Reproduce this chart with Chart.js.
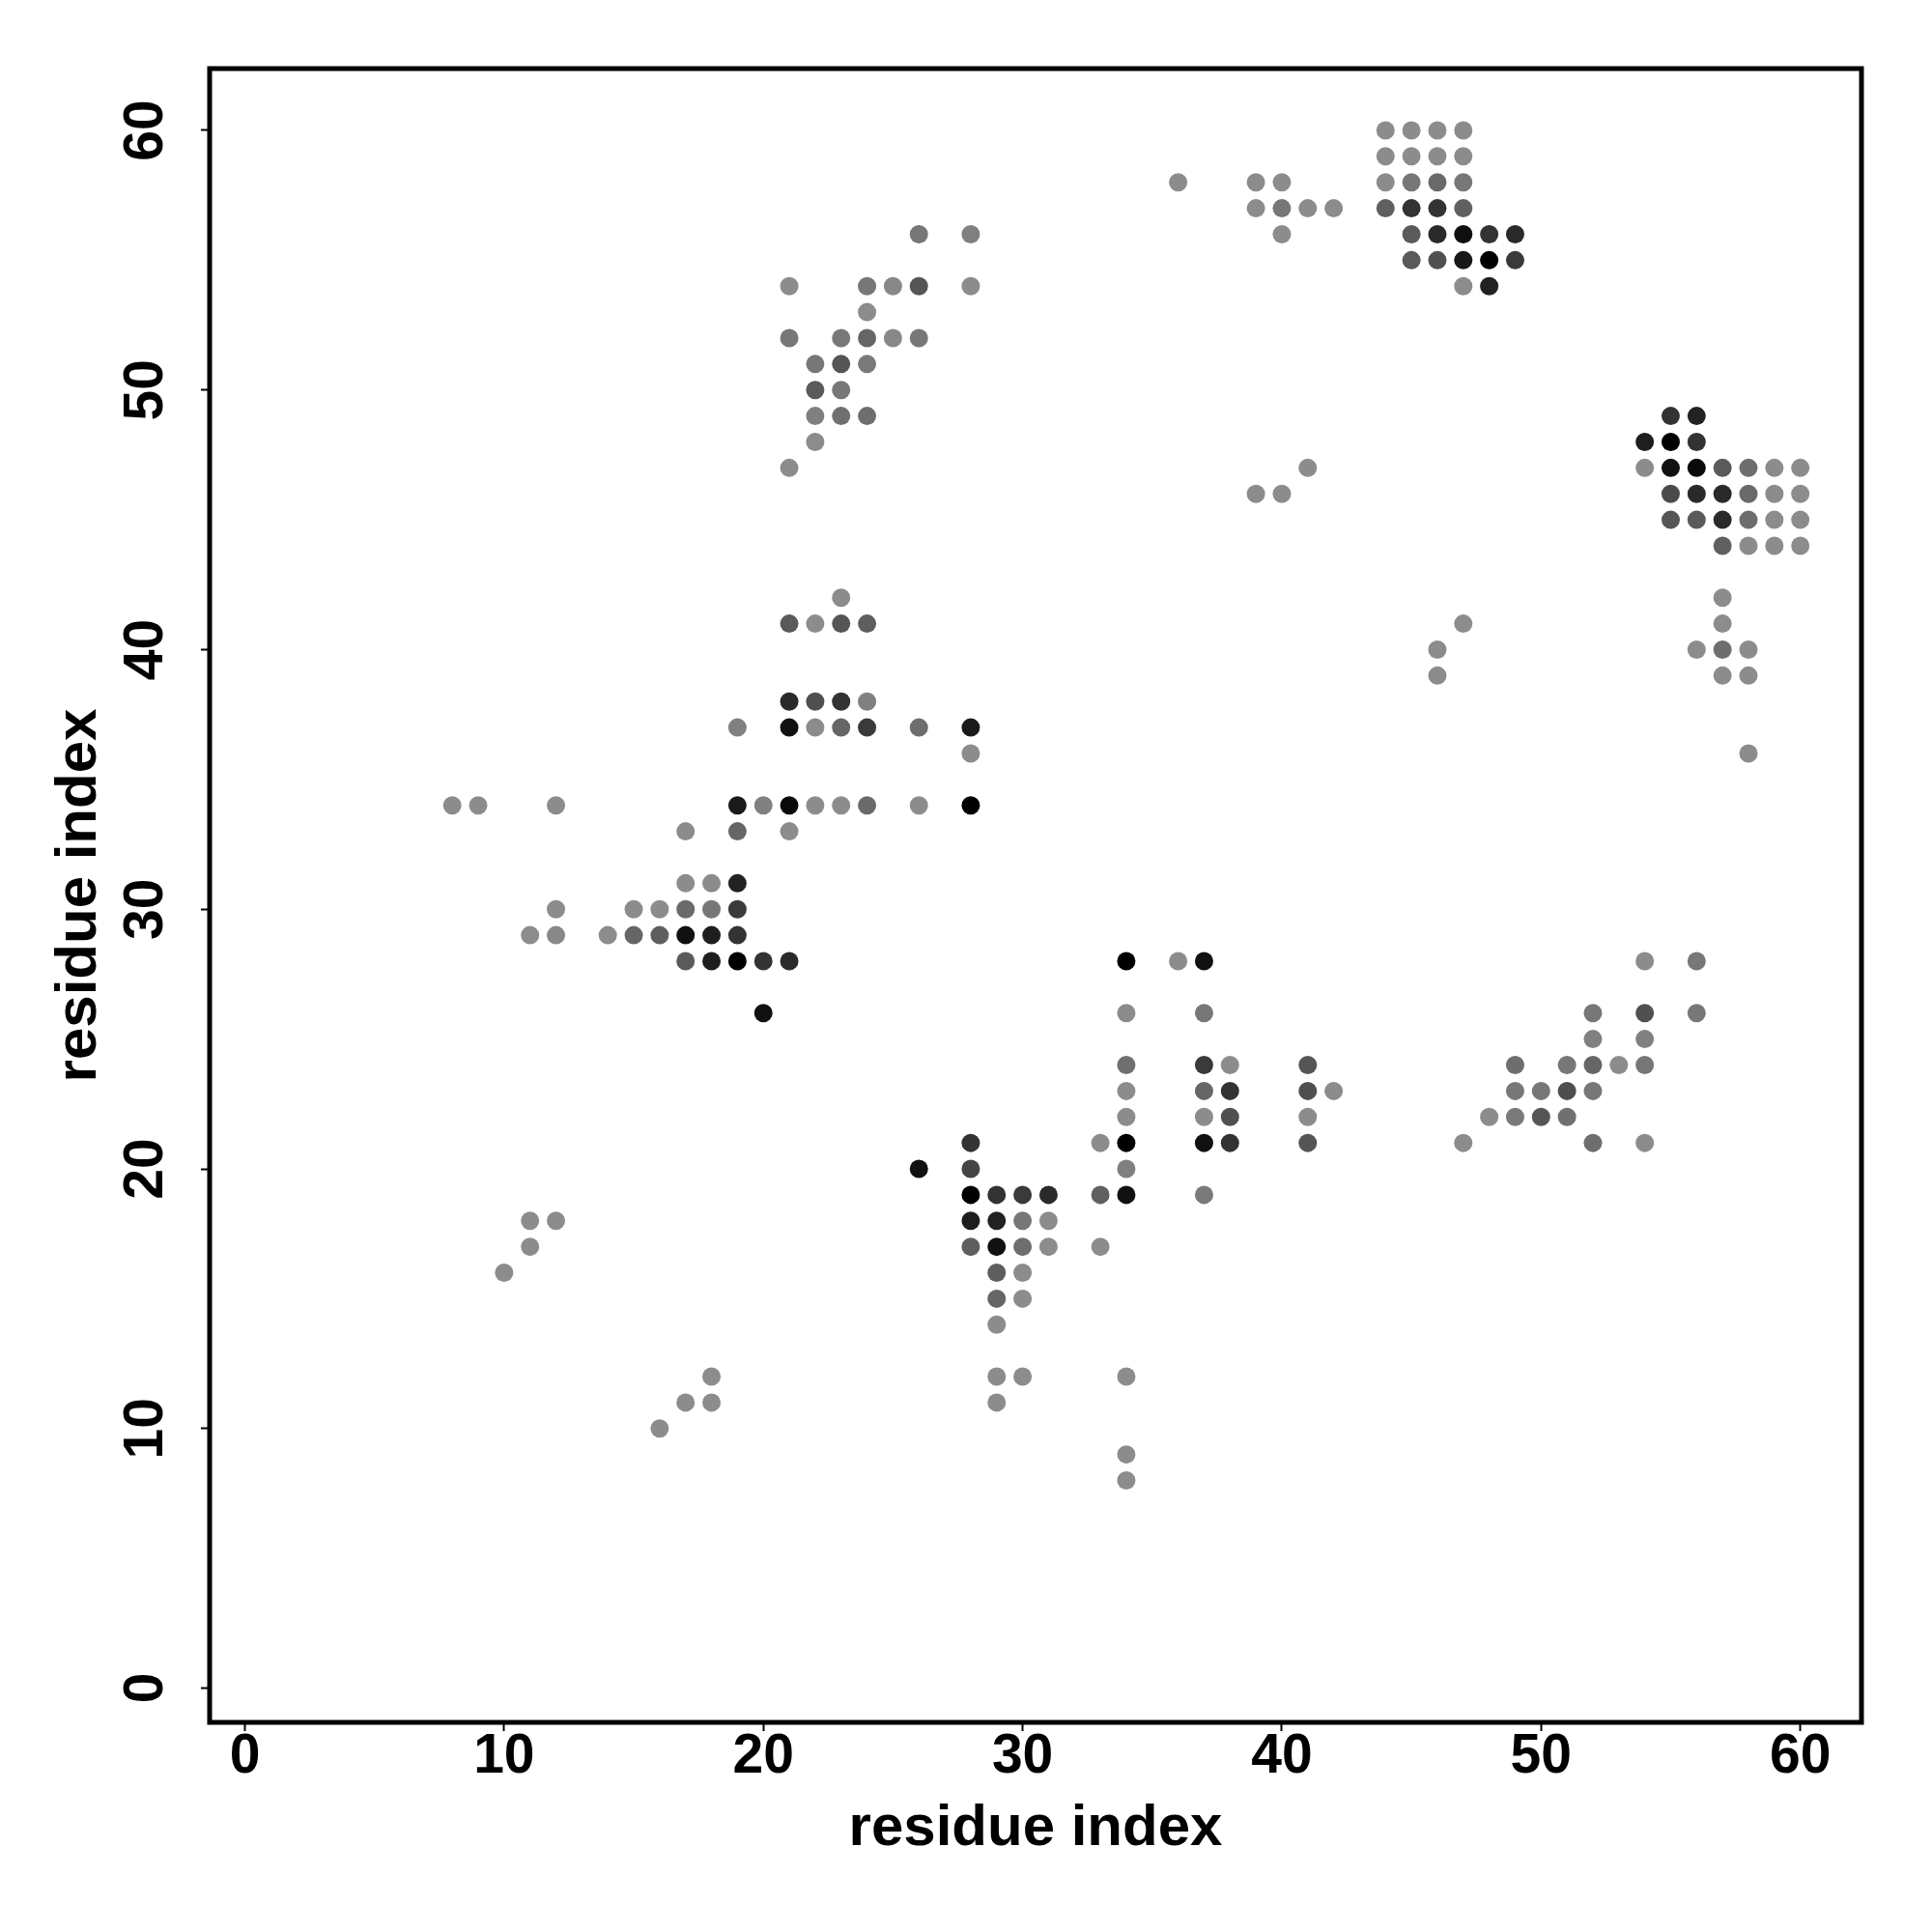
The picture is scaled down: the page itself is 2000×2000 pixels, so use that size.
<!DOCTYPE html>
<html>
<head>
<meta charset="utf-8">
<script src="https://cdn.jsdelivr.net/npm/chart.js@4/dist/chart.umd.min.js"></script>
<style>
  html, body { margin: 0; padding: 0; background: #ffffff; }
  #wrap { width: 2000px; height: 2000px; }
</style>
</head>
<body>
<div id="wrap"><canvas id="c" width="2000" height="2000"></canvas></div>
<script>
// ---- data (residue i, residue j, gray level 0=black .. 140=light) ----
const contactX = [
  44,45,46,47, 44,45,46,47,
  36,39,40,44,45,46,47,
  39,40,41,42,44,45,46,47,
  40,45,46,47,48,49,
  45,46,47,48,49,
  47,48,
  26,28,
  21,24,25,26,28,
  24,
  21,23,24,25,26,
  22,23,24,
  22,23,
  22,23,24,
  22,
  21,
  41,39,40,
  47,46,46,
  55,56,
  54,55,56,
  54,55,56,57,58,59,60,
  55,56,57,58,59,60,
  55,56,57,58,59,60,
  57,58,59,60,
  57,57,
  56,57,58,
  57,58,
  58,
  23,
  21,22,23,24,
  21,22,23,24,
  19,21,22,23,24,26,28,
  28,
  8,9,12,19,20,21,22,23,24,26,28,
  17,19,21,
  17,18,19,
  12,15,16,17,18,19,
  11,12,14,15,16,17,18,19,
  17,18,19,20,21,
  20,
  11,12,11,10,
  18,17,18,16,
  34,36,37,
  34,37,
  34,37,38,
  34,37,38,
  34,37,38,
  26,
  28,33,34,37,38,
  28,34,
  28,29,30,31,33,34,37,
  28,29,30,31,
  28,29,30,31,33,
  29,30,
  29,30,
  29,
  29,30,34,
  29,
  34,34,
  41,41,42,41,41,
  54,56,
  52,54,56,
  52,54,
  49,51,52,53,54,
  49,50,51,52,
  48,49,50,51,
  47,52,54
];
const contactY = [
  60,60,60,60, 59,59,59,59,
  58,58,58,58,58,58,58,
  57,57,57,57,57,57,57,57,
  56,56,56,56,56,56,
  55,55,55,55,55,
  54,54,
  56,56,
  54,54,54,54,54,
  53,
  52,52,52,52,52,
  51,51,51,
  50,50,
  49,49,49,
  48,
  47,
  47,46,46,
  41,40,39,
  49,49,
  48,48,48,
  47,47,47,47,47,47,47,
  46,46,46,46,46,46,
  45,45,45,45,45,45,
  44,44,44,44,
  42,41,
  40,40,40,
  39,39,
  36,
  42,
  41,41,41,41,
  38,38,38,38,
  37,37,37,37,37,37,37,
  36,
  34,34,34,34,34,34,34,34,34,34,34,
  33,33,33,
  31,31,31,
  30,30,30,30,30,30,
  29,29,29,29,29,29,29,29,
  28,28,28,28,28,
  26,
  18,18,17,16,
  12,11,11,10,
  28,28,28,
  26,26,
  24,24,24,
  23,23,23,
  22,22,22,
  20,
  21,21,21,21,21,
  20,20,
  19,19,19,19,19,19,19,
  18,18,18,18,
  17,17,17,17,17,
  16,16,
  15,15,
  14,
  12,12,12,
  11,
  9,8,
  24,23,23,22,21,
  28,28,
  26,26,26,
  25,25,
  24,24,24,24,24,
  23,23,23,23,
  22,22,22,22,
  21,21,21
];
const contactGray = [
  140,140,140,140, 140,140,140,140,
  140,140,140,140,119,106,119,
  140,119,140,140,96,51,51,96,
  140,90,42,15,51,42,
  90,80,24,0,58,
  140,34,
  119,128,
  140,119,136,85,140,
  140,
  119,120,102,136,119,
  119,85,122,
  90,119,
  128,112,110,
  140,
  140,
  140,140,140,
  140,140,140,
  51,34,
  30,0,51,
  140,17,10,90,110,140,140,
  74,42,42,106,140,140,
  85,90,42,110,140,140,
  96,140,140,140,
  140,140,
  140,110,140,
  140,140,
  140,
  140,
  90,140,85,94,
  42,80,51,128,
  128,17,140,102,58,110,26,
  140,
  140,140,140,26,128,10,140,140,106,140,0,
  140,102,140,
  140,140,34,
  140,140,140,106,119,58,
  140,136,140,102,94,17,30,51,
  90,30,0,51,42,
  17,
  140,140,140,140,
  140,140,140,140,
  0,140,17,
  140,119,
  112,58,140,
  140,102,51,
  140,140,80,
  17,
  51,140,0,17,51,
  68,128,
  0,51,58,42,96,17,122,
  30,34,119,140,
  94,17,110,140,140,
  94,140,
  102,140,
  140,
  140,140,140,
  140,
  140,140,
  85,80,140,140,85,
  140,119,
  119,80,119,
  128,128,
  110,119,102,140,119,
  119,119,78,119,
  140,122,85,112,
  140,110,140
];
const xTickValues = [0, 10, 20, 30, 40, 50, 60];
const yTickValues = [0, 10, 20, 30, 40, 50, 60];
const xTitle = 'residue index';
const yTitle = 'residue index';

const points = contactX.map((x, i) => ({ x: x, y: contactY[i] }));
const colors = contactGray.map(g => `rgb(${g},${g},${g})`);

const FONT = "'Liberation Sans', Arial, Helvetica, sans-serif";

const boxPlugin = {
  id: 'box',
  afterDraw(chart) {
    const { ctx, chartArea: a } = chart;
    ctx.save();
    ctx.strokeStyle = '#000';
    ctx.lineWidth = 5;
    ctx.strokeRect(a.left, a.top, a.right - a.left, a.bottom - a.top);
    ctx.restore();
  }
};

new Chart(document.getElementById('c'), {
  type: 'scatter',
  data: {
    datasets: [{
      data: points,
      backgroundColor: colors,
      borderWidth: 0,
      pointRadius: 9.5,
      pointHoverRadius: 9.5
    }]
  },
  options: {
    responsive: false,
    animation: false,
    devicePixelRatio: 1,
    layout: { padding: { left: 0, top: 71, right: 73, bottom: 0 } },
    plugins: { legend: { display: false }, tooltip: { enabled: false } },
    scales: {
      x: {
        type: 'linear',
        min: -1.36, max: 62.36,
        afterBuildTicks: s => { s.ticks = xTickValues.map(v => ({ value: v })); },
        afterFit: s => { s.height = 217; },
        grid: { display: true, drawOnChartArea: false, drawTicks: true, tickLength: 9, tickWidth: 2, tickColor: '#000', color: '#000' },
        border: { display: false },
        ticks: { color: '#000', padding: -1, font: { family: FONT, size: 57, weight: 'bold', lineHeight: 1 } },
        title: { display: true, text: xTitle, color: '#000', font: { family: FONT, size: 60, weight: 'bold', lineHeight: 1.2 }, padding: { top: 0, bottom: 71 } }
      },
      y: {
        type: 'linear',
        min: -1.32, max: 62.38,
        afterBuildTicks: s => { s.ticks = yTickValues.map(v => ({ value: v })); },
        afterFit: s => { s.width = 217; },
        grid: { display: true, drawOnChartArea: false, drawTicks: true, tickLength: 9, tickWidth: 2, tickColor: '#000', color: '#000' },
        border: { display: false },
        ticks: { color: '#000', padding: 24, crossAlign: 'center', minRotation: 90, maxRotation: 90, font: { family: FONT, size: 57, weight: 'bold', lineHeight: 1 } },
        title: { display: true, text: yTitle, color: '#000', font: { family: FONT, size: 60, weight: 'bold', lineHeight: 1.2 }, padding: { top: 46, bottom: 0 } }
      }
    }
  },
  plugins: [boxPlugin]
});
</script>
</body>
</html>
